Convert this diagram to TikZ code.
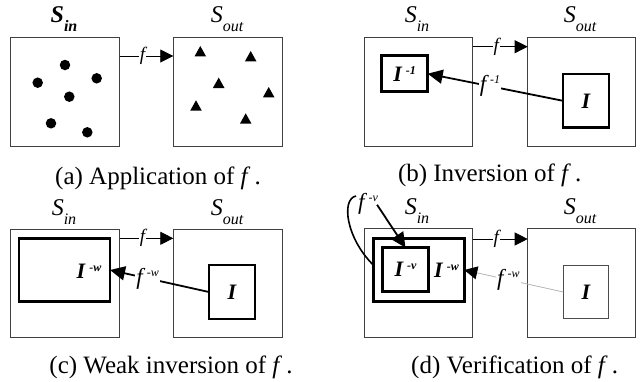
\documentclass[tikz,border=0pt]{standalone}
\usepackage{fontspec}
\setmainfont{Liberation Serif}
\usetikzlibrary{arrows.meta}
\newcommand{\Sset}[1]{{\fontsize{24}{24}\selectfont\itshape S}\raisebox{-9pt}{\fontsize{16}{16}\selectfont\itshape #1}}
\newcommand{\SsetB}[1]{{\fontsize{24}{24}\selectfont\bfseries\itshape S}\raisebox{-9pt}{\fontsize{16}{16}\selectfont\bfseries\itshape #1}}
\newcommand{\Ilab}[1]{{\fontsize{22}{22}\selectfont\bfseries\itshape I}\hspace{4pt}\raisebox{7pt}{\fontsize{12}{12}\selectfont\bfseries\itshape #1}}
\newcommand{\Ibare}{{\fontsize{22}{22}\selectfont\bfseries\itshape I}}
\newcommand{\flab}{{\fontsize{19}{19}\selectfont\itshape f}}
\newcommand{\fsup}[1]{{\fontsize{23}{23}\selectfont\itshape f}\hspace{4pt}\raisebox{8pt}{\fontsize{12}{12}\selectfont\itshape #1}}
\newcommand{\capt}[1]{{\fontsize{25}{25}\selectfont #1}}
\begin{document}
\begin{tikzpicture}[x=1pt,y=-1pt,
  setbox/.style={draw=black!75, line width=0.9pt, minimum width=109pt, minimum height=108.5pt, inner sep=0pt, outer sep=0pt},
  thickbox/.style={draw=black, line width=2.6pt, inner sep=0pt, outer sep=0pt},
  thinbox/.style={draw=black!70, line width=0.9pt, inner sep=0pt, outer sep=0pt},
  farrow/.style={line width=0.8pt, -{Triangle[length=13pt,width=13pt]}},
  invarrow/.style={line width=1.8pt, -{Triangle[length=15pt,width=14pt]}},
  greyarrow/.style={draw=black!30, line width=0.8pt, -{Triangle[length=13pt,width=13pt,color=black]}},
  flabel/.style={fill=white, inner sep=1pt},
  lab/.style={inner sep=0pt, anchor=base},
  dot/.style={circle, fill=black, inner sep=0pt, minimum size=10.5pt},
]
\useasboundingbox (0,0) rectangle (640,381);

% ---------------- (a)
\node[setbox] (sinA) at (65,91.8) {};
\node[setbox] (soutA) at (227.8,91.8) {};
\node[lab] (lsinA) at (64,22.7) {\SsetB{in}};
\node[lab] (lsoutA) at (227,22.7) {\Sset{out}};
\draw[farrow] (sinA.east |- 0,56) -- (soutA.west |- 0,56) node[flabel, pos=0.43] (fA) {\flab};
\foreach \p [count=\i] in {(65,65),(37.7,82.7),(96.7,78.3),(69.3,96.7),(51,123.3),(87.3,132.3)}
  \node[dot] (d\i) at \p {};
\foreach \x/\y in {200.3/51.7,250.7/56.7,218.7/83.3,268.7/92.7,196/106,245.7/119}
  \fill (\x-5.8,\y+4.7) -- (\x+5.8,\y+4.7) -- (\x,\y-5.7) -- cycle;
\node[lab] (capA) at (158,184) {\capt{(a) Application of \textit{f}\,.}};

% ---------------- (b)
\node[setbox, minimum width=108pt] (sinB) at (418.7,91.8) {};
\node[setbox, minimum width=108pt] (soutB) at (581.7,91.8) {};
\node[lab] (lsinB) at (417,22.7) {\Sset{in}};
\node[lab] (lsoutB) at (580,22.7) {\Sset{out}};
\draw[farrow] (sinB.east |- 0,46.7) -- (soutB.west |- 0,46.7) node[flabel, pos=0.43] (fB) {\flab};
\node[thickbox, minimum width=46pt, minimum height=36pt] (IinvB) at (404.7,73.7) {\Ilab{-1}};
\node[thickbox, minimum width=46pt, minimum height=53.7pt] (IB) at (586,100.8) {\Ibare};
\draw[invarrow] (IB.west) -- (IinvB.east) node[flabel, pos=0.54] (finvB) {\fsup{-1}};
\node[lab] (capB) at (489.7,181) {\capt{(b) Inversion of \textit{f}\,.}};

% ---------------- (c)
\node[setbox] (sinC) at (65,283.3) {};
\node[setbox] (soutC) at (227.8,283.3) {};
\node[lab] (lsinC) at (64,215) {\Sset{in}};
\node[lab] (lsoutC) at (227,215) {\Sset{out}};
\draw[farrow] (sinC.east |- 0,238.3) -- (soutC.west |- 0,238.3) node[flabel, pos=0.43] (fC) {\flab};
\node[thickbox, minimum width=91pt, minimum height=63.4pt] (IwC) at (64.5,270) {};
\node[inner sep=0pt] (IwClab) at (89,271) {\Ilab{-w}};
\node[thickbox, minimum width=46pt, minimum height=54pt] (IC) at (232,292) {\Ibare};
\draw[invarrow] (IC.west) -- (IwC.east) node[flabel, pos=0.62] (fwC) {\fsup{-w}};
\node[lab] (capC) at (171,373) {\capt{(c) Weak inversion of \textit{f}\,.}};

% ---------------- (d)
\node[setbox, minimum width=108pt] (sinD) at (418.7,283) {};
\node[setbox, minimum width=108pt] (soutD) at (581.7,283) {};
\node[lab] (lsinD) at (417,214) {\Sset{in}};
\node[lab] (lsoutD) at (580,214) {\Sset{out}};
\draw[farrow] (sinD.east |- 0,239) -- (soutD.west |- 0,239) node[flabel, pos=0.43] (fD) {\flab};
\node[thickbox, minimum width=91pt, minimum height=63.4pt] (IwD) at (418.8,270) {};
\node[thickbox, minimum width=45.6pt, minimum height=44pt] (IvD) at (405.5,269.7) {\Ilab{-v}};
\node[inner sep=0pt] (IwDlab) at (446.5,270) {\Ilab{-w}};
\node[thinbox, minimum width=45pt, minimum height=52.6pt] (ID) at (585.8,292) {\Ibare};
\draw[greyarrow] (ID.west) -- (IwD.east) node[flabel, pos=0.555] (fwD) {\fsup{-w}};
\node[inner sep=0pt] (fvD) at (368,204) {\fsup{-v}};
\coordinate (hook) at (356,196);
\draw[line width=1.6pt] ([yshift=5pt]IwD.west) .. controls (346,238) and (341,199) .. (hook);
\draw[invarrow] ([shift={(-1,-10)}]fvD.south east) -- (IvD.north);
\node[lab] (capD) at (514.7,373) {\capt{(d) Verification of \textit{f}\,.}};
\end{tikzpicture}
\end{document}
